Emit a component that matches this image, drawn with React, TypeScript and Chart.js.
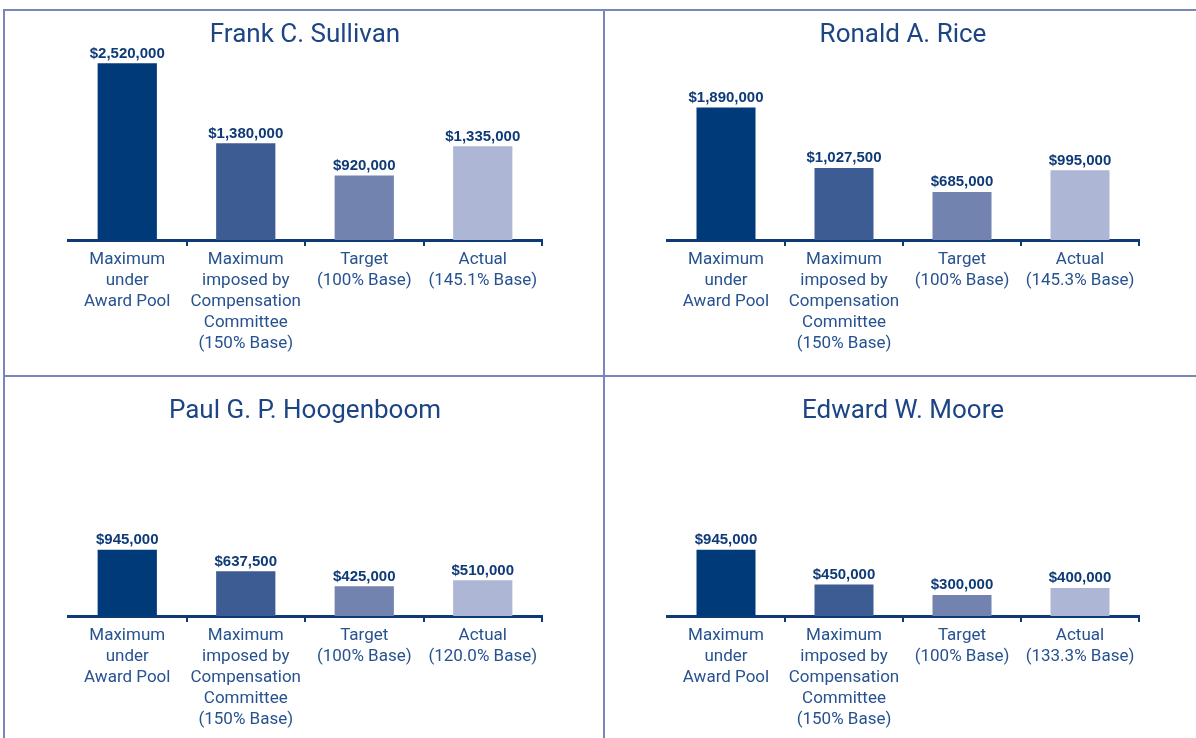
import React, { useEffect, useRef } from "react";
import { Chart, registerables } from "chart.js";

Chart.register(...registerables);

// ---- Data ----
const personNames = ["Frank C. Sullivan", "Ronald A. Rice", "Paul G. P. Hoogenboom", "Edward W. Moore"];
const baseCategories: string[][] = [
  ["Maximum", "under", "Award Pool"],
  ["Maximum", "imposed by", "Compensation", "Committee", "(150% Base)"],
  ["Target", "(100% Base)"],
];
const actualPercents = ["145.1%", "145.3%", "120.0%", "133.3%"];
const sullivanValues = [2520000, 1380000, 920000, 1335000];
const riceValues = [1890000, 1027500, 685000, 995000];
const hoogenboomValues = [945000, 637500, 425000, 510000];
const mooreValues = [945000, 450000, 300000, 400000];
const allValues = [sullivanValues, riceValues, hoogenboomValues, mooreValues];

const barColors = ["#003a78", "#3d5c94", "#7283b0", "#adb6d4"];
const Y_MAX = 2700000;

const NAVY = "#0e3a77";
const TITLE_COLOR = "#1d4585";
const LABEL_COLOR = "#275290";
const BORDER_COLOR = "#7886bd";

const valueLabelPlugin = {
  id: "valueLabels",
  afterDatasetsDraw(chart: any) {
    const { ctx } = chart;
    const meta = chart.getDatasetMeta(0);
    const data = chart.data.datasets[0].data as number[];
    ctx.save();
    ctx.font = "bold 15px 'Liberation Sans', Arial, sans-serif";
    ctx.fillStyle = NAVY;
    ctx.textAlign = "center";
    ctx.textBaseline = "alphabetic";
    meta.data.forEach((bar: any, i: number) => {
      ctx.fillText("$" + Number(data[i]).toLocaleString("en-US"), bar.x, bar.y - 5.5);
    });
    ctx.restore();
  },
};

type PanelProps = {
  title: string;
  values: number[];
  actualPct: string;
  left: number;
  top: number;
  width: number;
  height: number;
  padLeft: number;
  padRight: number;
};

function Panel({ title, values, actualPct, left, top, width, height, padLeft, padRight }: PanelProps) {
  const ref = useRef<HTMLCanvasElement | null>(null);
  useEffect(() => {
    if (!ref.current) return;
    const labels = [...baseCategories, ["Actual", "(" + actualPct + " Base)"]];
    const chart = new Chart(ref.current, {
      type: "bar",
      data: {
        labels,
        datasets: [
          {
            data: values,
            backgroundColor: barColors,
            borderWidth: 0,
            barPercentage: 0.5,
            categoryPercentage: 1,
          },
        ],
      },
      options: {
        animation: false,
        responsive: false,
        devicePixelRatio: 1,
        layout: { padding: { left: padLeft, right: padRight, top: 0, bottom: 4.6 } },
        plugins: {
          legend: { display: false },
          tooltip: { enabled: false },
          title: {
            display: true,
            text: title,
            color: TITLE_COLOR,
            font: { family: "Roboto, 'Liberation Sans', sans-serif", size: 26, weight: "normal", lineHeight: 1.2 },
            padding: { top: 8.4, bottom: 0 },
          },
        },
        scales: {
          x: {
            offset: true,
            grid: {
              offset: true,
              drawOnChartArea: false,
              drawTicks: true,
              tickLength: 6,
              lineWidth: 2,
              color: (c: any) => (c.index === 0 || c.index === 4 ? "rgba(0,0,0,0)" : NAVY),
            },
            border: { display: true, color: NAVY, width: 3 },
            ticks: {
              color: LABEL_COLOR,
              padding: 3,
              maxRotation: 0,
              autoSkip: false,
              font: { family: "Roboto, 'Liberation Sans', sans-serif", size: 17, lineHeight: 1.24 },
            },
          },
          y: {
            display: false,
            min: 0,
            max: Y_MAX,
          },
        },
      },
      plugins: [valueLabelPlugin],
    } as any);
    return () => chart.destroy();
  }, [title, values, actualPct, padLeft, padRight]);
  return (
    <canvas
      ref={ref}
      width={width}
      height={height}
      style={{ position: "absolute", left, top, width, height, display: "block" }}
    />
  );
}

export default function App() {
  const line = (l: number, t: number, w: number, h: number) => (
    <div style={{ position: "absolute", left: l, top: t, width: w, height: h, background: BORDER_COLOR }} />
  );
  return (
    <div style={{ position: "absolute", left: 0, top: 0, width: 1196, height: 738, background: "#ffffff", overflow: "hidden" }}>
      {line(3, 9, 1193, 2)}
      {line(3, 375, 1193, 2)}
      {line(3, 9, 2, 729)}
      {line(603, 9, 2, 729)}
      <Panel title={personNames[0]} values={allValues[0]} actualPct={actualPercents[0]} left={5} top={11} width={598} height={351} padLeft={63} padRight={61} />
      <Panel title={personNames[1]} values={allValues[1]} actualPct={actualPercents[1]} left={605} top={11} width={591} height={351} padLeft={62} padRight={57} />
      <Panel title={personNames[2]} values={allValues[2]} actualPct={actualPercents[2]} left={5} top={387} width={598} height={351} padLeft={63} padRight={61} />
      <Panel title={personNames[3]} values={allValues[3]} actualPct={actualPercents[3]} left={605} top={387} width={591} height={351} padLeft={62} padRight={57} />
    </div>
  );
}
